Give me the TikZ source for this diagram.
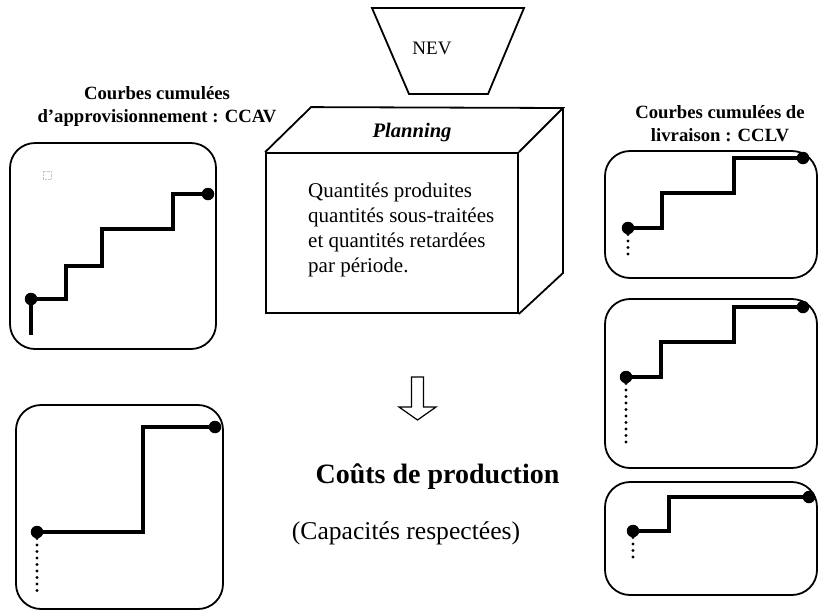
\documentclass[tikz,border=0pt]{standalone}
\usepackage{fontspec}
\setmainfont{Liberation Serif}
\usetikzlibrary{positioning}
\tikzset{trait/.style = {line width=1.8pt}}
\tikzset{cadre/.style = {draw, line width=1.8pt, rounded corners=25pt, inner sep=0}}
\tikzset{courbe/.style = {line width=3.4pt, line join=miter}}
\tikzset{point/.style = {circle, fill, inner sep=0, minimum size=12.5pt}}
\tikzset{pointille/.style = {line width=3.4pt, line cap=round, dash pattern=on 0pt off 6.5pt}}
\tikzset{titre/.style = {align=center, font=\fontsize{18.7}{23}\selectfont\bfseries}}

\begin{document}
\begin{tikzpicture}[x=1pt, y=-1pt]
    \useasboundingbox (0,0) rectangle (819,611);

    % NEV
    \draw [trait] (372,8) -- (524,8) -- (488,94) -- (409,94) -- cycle;
    \node [font=\fontsize{19}{22}\selectfont] (nev) at (432,48) {NEV};

    % Planning
    \node [trait, draw, minimum width=252, minimum height=160, inner sep=0] (plan) at (392,233) {};
    \coordinate (arriere) at (563,108);
    \draw [trait] (plan.north west) -- ++(46,-45) -- (arriere) -- (plan.north east);
    \draw [trait] (arriere) -- ++(0,165) -- (plan.south east);
    \node [font=\fontsize{20.6}{24}\selectfont\bfseries\itshape] (planning) at (412,133) {Planning};
    \node [anchor=west, align=left, inner sep=0, font=\fontsize{21}{25}\selectfont] (quantites) at (308,230)
      {Quantités produites\\quantités sous-traitées\\et quantités retardées\\par période.};

    % fleche
    \draw [line width=1.2pt] (411.5,377) -- (423.5,377) -- (423.5,407) -- (436,407) -- (417.5,420)
      -- (399,407) -- (411.5,407) -- cycle;
    \node [font=\fontsize{28}{32}\selectfont\bfseries] (couts) at (437.5,477) {Coûts de production};
    \node [font=\fontsize{25.6}{30}\selectfont] (capacites) at (406,533) {(Capacités respectées)};

    % CCAV
    \node [titre] (ccav) at (157,106) {Courbes cumulées\\d’approvisionnement : CCAV};
    \node [cadre, minimum width=206, minimum height=206] (av1) at (113,246) {};
    \draw [gray!45, densely dotted] (43,171) rectangle (51,179);
    \node [point] (av1a) at (31,299) {};
    \node [point] (av1b) at (208,194) {};
    \draw [courbe] (31,335) -- (av1a.center) -- (66,299) -- (66,266) -- (102,266) -- (102,229)
      -- (173,229) -- (173,194) -- (av1b.center);
    \node [cadre, minimum width=207, minimum height=204] (av2) at (119.5,507) {};
    \node [point] (av2a) at (37,532) {};
    \node [point] (av2b) at (215,427) {};
    \draw [courbe] (av2a.center) -- (143,532) -- (143,427) -- (av2b.center);
    \draw [pointille] (av2a.center) -- (37,597);

    % CCLV
    \node [titre] (cclv) at (720,124) {Courbes cumulées de\\livraison : CCLV};
    \node [cadre, minimum width=212, minimum height=127] (lv1) at (711,214.5) {};
    \node [point] (lv1a) at (628,228) {};
    \node [point] (lv1b) at (803,158) {};
    \draw [courbe] (lv1a.center) -- (662,228) -- (662,193) -- (734,193) -- (734,158) -- (lv1b.center);
    \draw [pointille] (lv1a.center) -- (628,260);
    \node [cadre, minimum width=212, minimum height=169] (lv2) at (711,383.5) {};
    \node [point] (lv2a) at (626,377) {};
    \node [point] (lv2b) at (803,307) {};
    \draw [courbe] (lv2a.center) -- (661,377) -- (661,342) -- (734,342) -- (734,307) -- (lv2b.center);
    \draw [pointille] (lv2a.center) -- (626,443);
    \node [cadre, minimum width=212, minimum height=113] (lv3) at (711,538.5) {};
    \node [point] (lv3a) at (633,531) {};
    \node [point] (lv3b) at (809,497) {};
    \draw [courbe] (lv3a.center) -- (669,531) -- (669,497) -- (lv3b.center);
    \draw [pointille] (lv3a.center) -- (633,563);
  \end{tikzpicture}
\end{document}
